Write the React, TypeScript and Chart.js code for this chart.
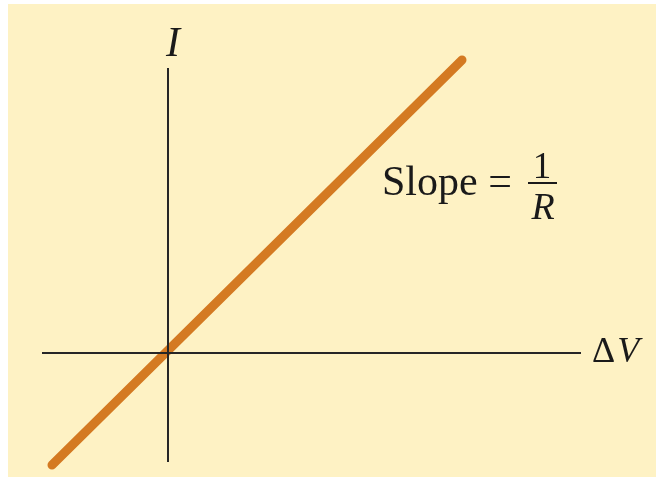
import React, { useEffect, useRef } from "react";
import { Chart, registerables } from "chart.js";

Chart.register(...registerables);

// Data space: origin at the axes' crossing, 1 unit = 100 px
const xRange = [-1.68, 4.88];
const yRange = [-1.24, 3.53];

// Ohmic line I = ΔV / R (passes through origin)
const lineX = [-1.16, 2.94];
const lineY = [-1.12, 2.93];

// Axis extents
const hAxisX = [-1.26, 4.13];
const vAxisY = [-1.09, 2.85];

const FONT = '"Liberation Serif", "Times New Roman", serif';
const BG = "rgb(254, 242, 196)";
const ORANGE = "#d47a22";
const AXIS = "#262626";

const textPlugin = {
  id: "labels",
  beforeDraw(chart: any) {
    const { ctx, width, height } = chart;
    ctx.save();
    ctx.fillStyle = "#ffffff";
    ctx.fillRect(0, 0, width, height);
    ctx.fillStyle = BG;
    ctx.fillRect(8, 4, width - 8, height - 4);
    ctx.restore();
  },
  afterDraw(chart: any) {
    const { ctx } = chart;
    const sx = chart.scales.x;
    const sy = chart.scales.y;
    const px = (v: number) => sx.getPixelForValue(v);
    const py = (v: number) => sy.getPixelForValue(v);
    ctx.save();
    ctx.fillStyle = "#1a1a1a";
    // I label
    ctx.font = `italic 42px ${FONT}`;
    ctx.textAlign = "center";
    ctx.textBaseline = "middle";
    ctx.fillText("I", px(0.05), py(3.08));
    // ΔV label
    ctx.textAlign = "left";
    ctx.font = `36px ${FONT}`;
    const dx = px(4.24);
    ctx.fillText("Δ", dx, py(0));
    const dw = ctx.measureText("Δ").width;
    ctx.font = `italic 36px ${FONT}`;
    ctx.fillText("V", dx + dw + 2, py(0));
    // Slope = 1/R
    ctx.textBaseline = "alphabetic";
    ctx.font = `42px ${FONT}`;
    ctx.fillText("Slope =", px(2.14), py(1.58));
    ctx.textAlign = "center";
    ctx.font = `37px ${FONT}`;
    ctx.fillText("1", px(3.74), py(1.75));
    ctx.font = `italic 38px ${FONT}`;
    ctx.fillText("R", px(3.75), py(1.34));
    ctx.strokeStyle = "#1a1a1a";
    ctx.lineWidth = 2;
    ctx.beginPath();
    ctx.moveTo(px(3.6), py(1.7));
    ctx.lineTo(px(3.89), py(1.7));
    ctx.stroke();
    ctx.restore();
  },
};

export default function App() {
  const ref = useRef<HTMLCanvasElement>(null);
  useEffect(() => {
    if (!ref.current) return;
    const chart = new Chart(ref.current, {
      type: "scatter",
      data: {
        datasets: [
          {
            data: hAxisX.map((x) => ({ x, y: 0 })),
            showLine: true,
            borderColor: AXIS,
            borderWidth: 2,
            pointRadius: 0,
          },
          {
            data: vAxisY.map((y) => ({ x: 0, y })),
            showLine: true,
            borderColor: AXIS,
            borderWidth: 2,
            pointRadius: 0,
          },
          {
            data: lineX.map((x, i) => ({ x, y: lineY[i] })),
            showLine: true,
            borderColor: ORANGE,
            borderWidth: 9,
            borderCapStyle: "round",
            pointRadius: 0,
          },
        ],
      },
      options: {
        responsive: false,
        animation: false,
        layout: { padding: 0 },
        plugins: { legend: { display: false }, tooltip: { enabled: false } },
        scales: {
          x: { type: "linear", min: xRange[0], max: xRange[1], display: false },
          y: { type: "linear", min: yRange[0], max: yRange[1], display: false },
        },
      } as any,
      plugins: [textPlugin],
    });
    return () => chart.destroy();
  }, []);
  return (
    <div style={{ position: "absolute", left: 0, top: 0, width: 656, height: 477 }}>
      <canvas ref={ref} width={656} height={477} />
    </div>
  );
}
